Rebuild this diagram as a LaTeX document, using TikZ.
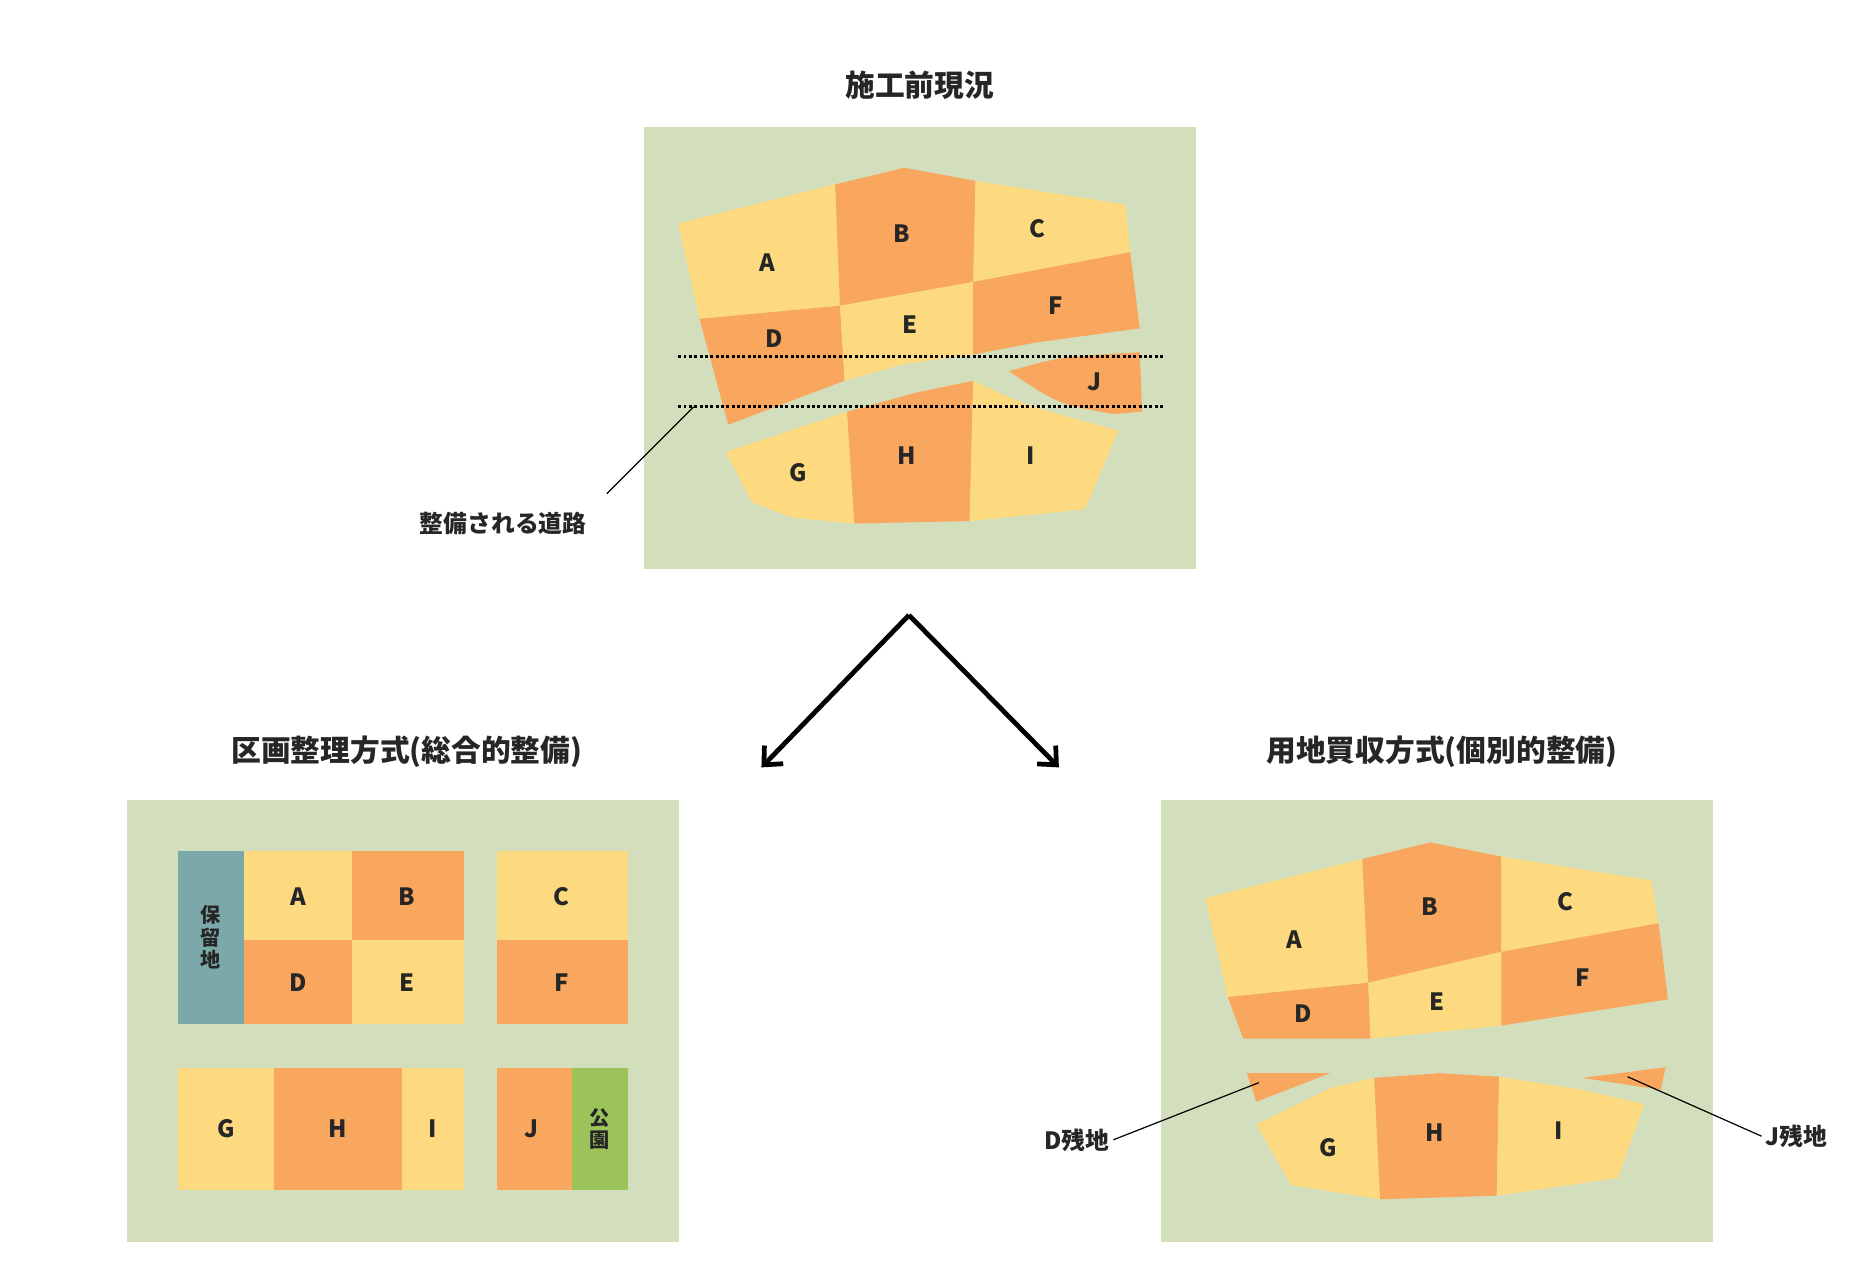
\documentclass[tikz,border=0pt]{standalone}
\usepackage{fontspec}
\setmainfont{Noto Sans CJK JP}
\usetikzlibrary{arrows.meta}
\definecolor{bgg}{HTML}{D3DFBC}
\definecolor{yel}{HTML}{FDDA80}
\definecolor{ora}{HTML}{F9A75E}
\definecolor{teal2}{HTML}{7BA8A8}
\definecolor{park}{HTML}{9BC35A}
\tikzset{
 lab/.style={font=\fontsize{20}{20}\selectfont\bfseries, text=black!85},
 ttl/.style={font=\fontsize{25}{25}\selectfont\bfseries, text=black!85},
 vt/.style={font=\fontsize{17}{19}\selectfont\bfseries, align=center, text=black!85},
 lead/.style={draw=black, line width=1pt},
}
\begin{document}
\begin{tikzpicture}[x=1pt,y=-1pt]
\useasboundingbox (0,0) rectangle (1560,1082);
% ---------- top panel
\fill[bgg] (541,107) rectangle (1005,478);
\fill[yel] (570,188)--(702,155)--(706,257)--(588,268)--cycle;
\fill[ora] (702,155)--(760,141)--(820,152)--(818,237)--(706,257)--cycle;
\fill[yel] (820,152)--(946,172)--(950,212)--(818,237)--cycle;
\fill[ora] (588,268)--(706,257)--(710,320)--(612,357)--cycle;
\fill[yel] (706,257)--(818,237)--(818,298)--(760,306)--(710,320)--cycle;
\fill[ora] (818,237)--(950,212)--(958,276)--(870,288)--(818,298)--cycle;
\fill[ora] (848,312) .. controls (890,300) .. (958,296)--(960,346)--(936,348) .. controls (890,340) .. (848,312)--cycle;
\fill[yel] (610,380)--(712,346)--(718,440)--(665,435)--(632,422)--cycle;
\fill[ora] (712,346)--(770,330)--(818,320)--(815,438)--(718,440)--cycle;
\fill[yel] (818,320) .. controls (860,340) .. (940,362)--(912,428)--(815,438)--cycle;
\draw[line width=2.5pt, dotted] (570,300)--(978,300);
\draw[line width=2.5pt, dotted] (570,342)--(978,342);
\node[lab] (tA) at (645,221) {A};
\node[lab] (tB) at (758,196) {B};
\node[lab] (tC) at (872,192) {C};
\node[lab] (tD) at (651,285) {D};
\node[lab] (tE) at (765,273) {E};
\node[lab] (tF) at (887,257) {F};
\node[lab] (tJ) at (920,321) {J};
\node[lab] (tG) at (671,397) {G};
\node[lab] (tH) at (762,383) {H};
\node[lab] (tI) at (866,383) {I};
\coordinate (rd) at (583,342);
\node[lab] (road) at (423,440) {整備される道路};
\draw[lead] (rd)--(510,415);
\node[ttl] (t0) at (773,72) {施工前現況};
% ---------- arrows
\coordinate (apex) at (764,517);
\coordinate (la) at (640,645);
\coordinate (ra) at (890,645);
\draw[line width=4pt,-{Straight Barb[length=12pt,width=22pt]}] (apex)--(la);
\draw[line width=4pt,-{Straight Barb[length=12pt,width=22pt]}] (apex)--(ra);
% ---------- left panel
\node[ttl] (t1) at (342,632) {区画整理方式(総合的整備)};
\fill[bgg] (107,672) rectangle (571,1044);
\fill[teal2] (150,715) rectangle (205,861);
\fill[yel] (205,715) rectangle (296,790);
\fill[ora] (296,715) rectangle (390,790);
\fill[ora] (205,790) rectangle (296,861);
\fill[yel] (296,790) rectangle (390,861);
\fill[yel] (418,715) rectangle (528,790);
\fill[ora] (418,790) rectangle (528,861);
\fill[yel] (150,898) rectangle (230,1000);
\fill[ora] (230,898) rectangle (338,1000);
\fill[yel] (338,898) rectangle (390,1000);
\fill[ora] (418,898) rectangle (481,1000);
\fill[park] (481,898) rectangle (528,1000);
\node[vt] (lres) at (177,788) {保\\留\\地};
\node[vt] (lpark) at (504,949) {公\\園};
\node[lab] (lA) at (251,754) {A};
\node[lab] (lB) at (342,754) {B};
\node[lab] (lC) at (472,754) {C};
\node[lab] (lD) at (251,826) {D};
\node[lab] (lE) at (342,826) {E};
\node[lab] (lF) at (472,826) {F};
\node[lab] (lG) at (190,949) {G};
\node[lab] (lH) at (284,949) {H};
\node[lab] (lI) at (364,949) {I};
\node[lab] (lJ) at (447,949) {J};
% ---------- right panel
\node[ttl] (t2) at (1212,632) {用地買収方式(個別的整備)};
\fill[bgg] (976,672) rectangle (1440,1044);
\fill[yel] (1013,755)--(1145,722)--(1150,826)--(1032,838)--cycle;
\fill[ora] (1145,722)--(1202,708)--(1262,720)--(1262,800)--(1150,826)--cycle;
\fill[yel] (1262,720)--(1388,740)--(1394,776)--(1262,800)--cycle;
\fill[ora] (1032,838)--(1150,826)--(1152,873)--(1045,873)--cycle;
\fill[yel] (1150,826)--(1262,800)--(1262,862)--(1152,873)--cycle;
\fill[ora] (1262,800)--(1394,776)--(1402,840)--(1262,862)--cycle;
\fill[ora] (1048,902)--(1118,902)--(1056,926)--cycle;
\fill[ora] (1330,906)--(1400,897)--(1396,916)--cycle;
\fill[yel] (1056,945)--(1120,914)--(1155,906)--(1160,1008)--(1085,996)--cycle;
\fill[ora] (1155,906)--(1210,902)--(1260,905)--(1258,1005)--(1160,1008)--cycle;
\fill[yel] (1260,905)--(1330,916)--(1382,928)--(1360,990)--(1258,1005)--cycle;
\node[lab] (rA) at (1088,790) {A};
\node[lab] (rB) at (1202,762) {B};
\node[lab] (rC) at (1316,758) {C};
\node[lab] (rD) at (1095,852) {D};
\node[lab] (rE) at (1208,842) {E};
\node[lab] (rF) at (1330,822) {F};
\node[lab] (rG) at (1116,965) {G};
\node[lab] (rH) at (1206,952) {H};
\node[lab] (rI) at (1310,950) {I};
\coordinate (dr) at (1058,910);
\coordinate (jr) at (1368,905);
\node[lab] (dlab) at (905,958) {D残地};
\node[lab] (jlab) at (1510,955) {J残地};
\draw[lead] (dlab.east)--(dr);
\draw[lead] (jlab.west)--(jr);
\end{tikzpicture}
\end{document}
